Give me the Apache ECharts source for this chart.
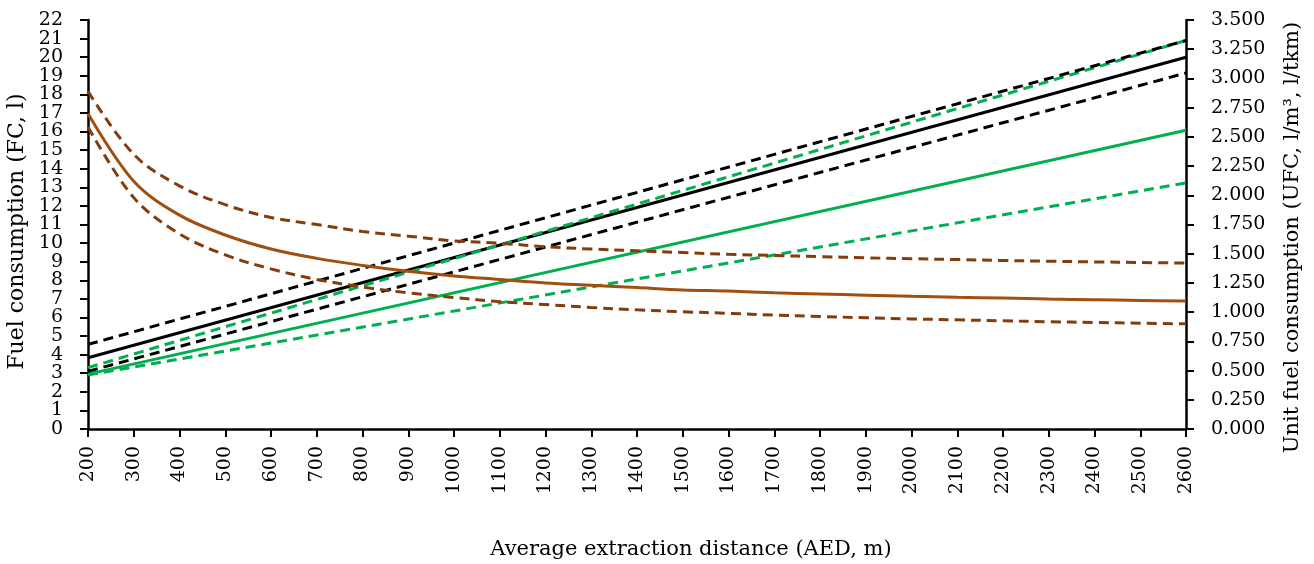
<!DOCTYPE html>
<html>
<head>
<meta charset="utf-8">
<script src="https://cdn.jsdelivr.net/npm/echarts@6/dist/echarts.min.js"></script>
<style>
  html, body { margin: 0; padding: 0; background: #fff; }
  #chart { width: 1314px; height: 564px; }
</style>
</head>
<body>
<div id="chart"></div>
<script>
// distances (m) where the curves were read
var distances = [200, 300, 400, 500, 600, 700, 800, 900, 1000, 1100, 1200, 1300, 1400,
  1500, 1600, 1700, 1800, 1900, 2000, 2100, 2200, 2300, 2400, 2500, 2600];
// straight lines only need their two ends
var lineEnds = [200, 2600];
// left axis tick labels
var fcTicks = ['0', '1', '2', '3', '4', '5', '6', '7', '8', '9', '10', '11',
  '12', '13', '14', '15', '16', '17', '18', '19', '20', '21', '22'];

// fuel consumption, left axis (l)
var fcBlack = [3.83, 20.0];
var fcBlackUp = [4.55, 20.9];
var fcBlackLow = [3.1, 19.15];
var fcGreen = [2.95, 16.07];
var fcGreenUp = [3.3, 20.9];
var fcGreenLow = [2.9, 13.24];

// unit fuel consumption, right axis
var ufc = [2.70, 2.12, 1.83, 1.66, 1.54, 1.46, 1.40, 1.35, 1.31, 1.28, 1.25, 1.23, 1.21,
  1.19, 1.18, 1.165, 1.155, 1.145, 1.135, 1.127, 1.12, 1.112, 1.106, 1.10, 1.095];
var ufcUp = [2.89, 2.35, 2.08, 1.92, 1.81, 1.75, 1.69, 1.65, 1.61, 1.59, 1.56, 1.54, 1.525,
  1.51, 1.495, 1.485, 1.475, 1.465, 1.457, 1.45, 1.442, 1.436, 1.43, 1.425, 1.42];
var ufcLow = [2.585, 1.98, 1.67, 1.49, 1.37, 1.28, 1.215, 1.165, 1.125, 1.09, 1.065, 1.04, 1.02,
  1.003, 0.99, 0.975, 0.963, 0.952, 0.942, 0.934, 0.926, 0.918, 0.912, 0.906, 0.90];

function pairs(xs, ys) {
  return xs.map(function (x, i) { return [x, ys[i]]; });
}

function line(name, xs, ys, color, dashed, axis) {
  return {
    name: name, type: 'line', yAxisIndex: axis,
    smooth: axis === 1 ? 0.35 : false,
    data: pairs(xs, ys), symbol: 'none', silent: true,
    lineStyle: { color: color, width: 3, type: dashed ? [10, 6] : 'solid' }
  };
}

var font = 'DejaVu Serif';
var axisLine = { show: true, lineStyle: { color: '#000', width: 2.5 } };
var axisTick = { show: true, inside: false, length: 8, lineStyle: { color: '#000', width: 2 } };
var tickText = { fontSize: 19, color: '#000', fontFamily: font,
  showMinLabel: true, showMaxLabel: true, hideOverlap: false };

function titleText(pad, size) {
  return { fontFamily: font, fontSize: size, color: '#000', padding: pad };
}

var chart = echarts.init(document.getElementById('chart'));
chart.setOption({
  animation: false,
  backgroundColor: '#fff',
  textStyle: { fontFamily: font },
  grid: { left: 88, right: 128, top: 20, bottom: 135, outerBoundsMode: 'none', containLabel: false },
  xAxis: {
    type: 'value', min: 200, max: 2600, interval: 100,
    name: 'Average extraction distance (AED, m)', nameLocation: 'middle', nameGap: 110,
    nameTextStyle: titleText([0, 0, 0, 108], 21),
    axisLine: axisLine, axisTick: axisTick, splitLine: { show: false },
    axisLabel: Object.assign({ rotate: 90, margin: 17, formatter: function (v) { return String(v); } }, tickText)
  },
  yAxis: [
    {
      // value scale for the FC lines; its labels come from the category axis below
      type: 'value', min: 0, max: 22, interval: 1, position: 'left',
      axisLine: axisLine, axisTick: { show: false }, splitLine: { show: false },
      axisLabel: { show: false }
    },
    {
      type: 'value', min: 0, max: 3.5, interval: 0.25, position: 'right',
      name: 'Unit fuel consumption (UFC, l/m³, l/tkm)', nameLocation: 'middle', nameGap: 96,
      nameRotate: 90,
      nameTextStyle: titleText([0, 26, 0, 0], 21),
      axisLine: axisLine, axisTick: axisTick, splitLine: { show: false },
      axisLabel: Object.assign({ margin: 25, formatter: function (v) { return v.toFixed(3); } }, tickText)
    },
    {
      type: 'category', data: fcTicks, boundaryGap: false, position: 'left',
      name: 'Fuel consumption (FC, l)', nameLocation: 'middle', nameGap: 60,
      nameTextStyle: titleText([0, 14, 0, 0], 22),
      axisLine: { show: false }, splitLine: { show: false },
      axisTick: Object.assign({ interval: 0 }, axisTick),
      axisLabel: Object.assign({ margin: 25, interval: 0 }, tickText)
    }
  ],
  series: [
    line('FC', lineEnds, fcGreenLow, '#00B050', true, 0),
    line('FC', lineEnds, fcGreen, '#00B050', false, 0),
    line('FC', lineEnds, fcBlackLow, '#000000', true, 0),
    line('FC', lineEnds, fcBlack, '#000000', false, 0),
    line('FC', lineEnds, fcGreenUp, '#00B050', true, 0),
    line('FC', lineEnds, fcBlackUp, '#000000', true, 0),
    line('UFC', distances, ufcLow, '#843C0C', true, 1),
    line('UFC', distances, ufcUp, '#843C0C', true, 1),
    line('UFC', distances, ufc, '#A24E0F', false, 1)
  ]
});
</script>
</body>
</html>
